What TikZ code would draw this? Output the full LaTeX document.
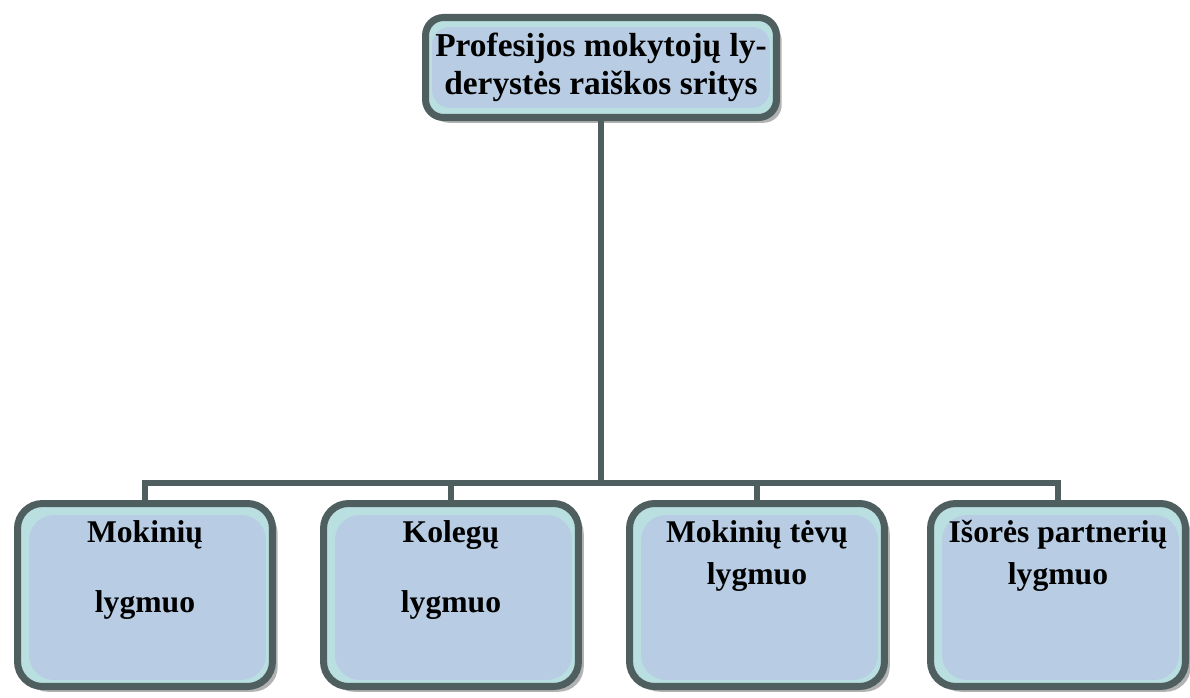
\documentclass[tikz,border=0pt]{standalone}
\usepackage{fontspec}
\setmainfont{Liberation Serif}
\usetikzlibrary{shadows}
\definecolor{rim}{HTML}{4F5E5E}
\definecolor{band}{HTML}{B9DFE1}
\definecolor{inner}{HTML}{B8CCE4}
\definecolor{shade}{HTML}{B2B2B2}
\tikzset{
  box/.style={draw=rim, line width=4pt, fill=band, inner sep=0pt,
    drop shadow={shadow xshift=3pt, shadow yshift=-3pt, fill=shade, opacity=1}},
  headbox/.style={box, rounded corners=0.36cm, minimum width=7.02cm, minimum height=2cm,
    align=center, font=\bfseries\fontsize{19}{21.5}\selectfont,
    path picture={\fill[inner] ([shift={(0.13cm,0.19cm)}]path picture bounding box.south west)
      rectangle ([shift={(-0.13cm,-0.19cm)}]path picture bounding box.north east);}},
  lvlbox/.style={box, rounded corners=0.5cm, minimum width=5.1cm, minimum height=3.66cm,
    font=\bfseries\fontsize{18}{21}\selectfont,
    path picture={\fill[inner] ([shift={(0.23cm,0.13cm)}]path picture bounding box.south west)
      rectangle ([shift={(-0.13cm,-0.23cm)}]path picture bounding box.north east);}},
  link/.style={draw=rim, line width=3.6pt}
}
\newcommand{\lvltext}[1]{\parbox[c][3.66cm][t]{5cm}{\centering\rule{0pt}{22pt}#1}}
\begin{document}
\begin{tikzpicture}[x=0.02cm, y=-0.02cm, line cap=rect]
  \useasboundingbox (0,0) rectangle (1190,697);
  \coordinate (bus) at (0,483);
  % level boxes
  \foreach \n/\x/\t in {m1/145/{Mokinių\\[19pt]lygmuo}, m2/451/{Kolegų\\[19pt]lygmuo},
      m3/757/{Mokinių tėvų\\[3pt]lygmuo}, m4/1058/{Išorės partnerių\\[3pt]lygmuo}}
    \node[lvlbox] (\n) at (\x,595) {\lvltext{\t}};
  \node[headbox] (head) at (601,67.5) {Profesijos mokytojų ly-\\derystės raiškos sritys};
  % connectors
  \foreach \n in {m1,m2,m3,m4}
    \draw[link] (head.south) -- (head.south |- bus) -| (\n.north);
\end{tikzpicture}
\end{document}
